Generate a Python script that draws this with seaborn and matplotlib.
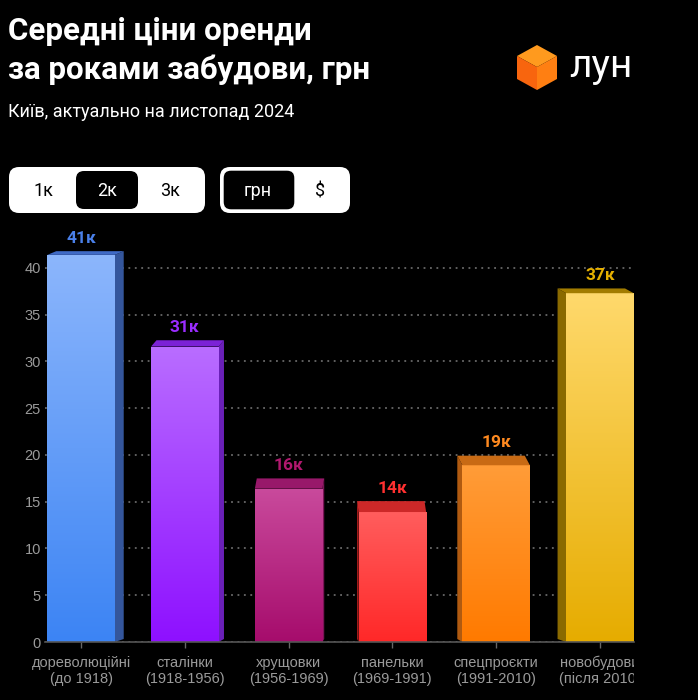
import numpy as np
import pandas as pd
import matplotlib
matplotlib.use("Agg")
import matplotlib.pyplot as plt
import seaborn as sns
from matplotlib.patches import FancyBboxPatch, Polygon
from matplotlib.colors import LinearSegmentedColormap
from matplotlib.transforms import Bbox, ScaledTranslation

# ---------------- data ----------------
categories = ["дореволюційні\n(до 1918)", "сталінки\n(1918-1956)", "хрущовки\n(1956-1969)",
              "панельки\n(1969-1991)", "спецпроєкти\n(1991-2010)", "новобудови\n(після 2010)"]
values = [41.4, 31.6, 16.4, 13.9, 18.9, 37.3]
value_labels = ["41к", "31к", "16к", "14к", "19к", "37к"]
y_ticks = [0, 5, 10, 15, 20, 25, 30, 35, 40]

title_lines = ["Середні ціни оренди", "за роками забудови, грн"]
subtitle = "Київ, актуально на листопад 2024"
toggle_a = ["1к", "2к", "3к"]
toggle_b = ["грн", "$"]

# ---------------- styles ----------------
top_colors = ["#8cb6fc", "#b96dff", "#c94a9c", "#ff5d5d", "#ff9c38", "#ffd96c"]
bottom_colors = ["#3c84f4", "#8e10ff", "#a60c6c", "#ff2828", "#ff7a00", "#e6ac00"]
side_colors = ["#34569c", "#6a20b8", "#7a1456", "#a81c1c", "#b05a10", "#8a6a00"]
cap_colors = ["#3f6ac6", "#7b22d6", "#98186a", "#cc2828", "#c86a14", "#a27c00"]
label_colors = ["#4a80ea", "#9a2cff", "#b0186e", "#ff3030", "#ff8a20", "#e5b000"]

W, H = 698, 700
sns.set_theme(style="dark")
plt.rcParams["font.family"] = ["Roboto", "DejaVu Sans"]

fig = plt.figure(figsize=(W / 100, H / 100), dpi=100, facecolor="black")

# main axes: pixel geometry
ax_l, ax_r, ax_b, ax_t = 45, 634, 642, 230
ax = fig.add_axes([ax_l / W, 1 - ax_b / H, (ax_r - ax_l) / W, (ax_b - ax_t) / H])
ax.set_facecolor("black")

df = pd.DataFrame({"cat": categories, "val": values})
sns.barplot(data=df, x="cat", y="val", hue="cat", palette=bottom_colors, legend=False,
            width=0.65, ax=ax, zorder=3, saturation=1)

xmin, xmax = -0.347, 5.328
ymin, ymax = 0, 44.06
px_x = (ax_r - ax_l) / (xmax - xmin)
px_y = (ax_b - ax_t) / (ymax - ymin)

for i, p in enumerate(ax.patches):
    x0, w, h = p.get_x(), p.get_width(), p.get_height()
    p.set_edgecolor("none")
    cx = x0 + w / 2
    cx_px = ax_l + (cx - xmin) * px_x
    dx = -0.034 * (cx_px - 345) / px_x
    top_px = ax_b - h * px_y
    dyt = (3 + 0.028 * (top_px - ax_t)) / px_y
    dyb = 3 / px_y
    # gradient on front face
    cmap = LinearSegmentedColormap.from_list(f"g{i}", [bottom_colors[i], top_colors[i]])
    im = ax.imshow(np.linspace(0, 1, 256).reshape(-1, 1), extent=[x0, x0 + w, 0, h],
                   origin="lower", cmap=cmap, aspect="auto", zorder=4, interpolation="bilinear")
    im.set_clip_path(p)
    # side face
    xe = x0 + w if dx > 0 else x0
    side = Polygon([(xe, 0), (xe + dx, dyb), (xe + dx, h + dyt), (xe, h)], closed=True,
                   facecolor=side_colors[i], edgecolor="none", zorder=2.5)
    ax.add_patch(side)
    # top face
    cap = Polygon([(x0, h), (x0 + w, h), (x0 + w + dx, h + dyt), (x0 + dx, h + dyt)], closed=True,
                  facecolor=cap_colors[i], edgecolor="none", zorder=4.5)
    ax.add_patch(cap)
    ax.text(cx, h + dyt, value_labels[i], ha="center", va="bottom", color=label_colors[i],
            fontsize=12.5, fontweight="bold", zorder=6,
            transform=ax.transData + ScaledTranslation(0, 4 / 72, fig.dpi_scale_trans))

ax.set_xlim(xmin, xmax)
ax.set_ylim(ymin, ymax)
ax.set_yticks(y_ticks)
ax.set_yticklabels([str(t) for t in y_ticks])
ax.set_xlabel("")
ax.set_ylabel("")
ax.grid(False)
ax.yaxis.grid(True, color="#7a7a7a", linestyle=(0, (1.2, 3)), linewidth=1.1, zorder=1)
ax.set_axisbelow(True)
for s in ["top", "right", "left"]:
    ax.spines[s].set_visible(False)
ax.spines["bottom"].set_color("#555555")
ax.spines["bottom"].set_linewidth(1.2)
ax.spines["bottom"].set_zorder(7)
ax.tick_params(axis="y", length=0, pad=3, labelcolor="#9a9a9a", labelsize=10.5)
ax.tick_params(axis="x", length=4, width=1, color="#666666", pad=6, labelcolor="#9a9a9a",
               labelsize=10.5, bottom=True)
for lbl in ax.get_xticklabels():
    lbl.set_fontfamily(["Liberation Sans Narrow", "Liberation Sans", "DejaVu Sans"])
    lbl.set_linespacing(1.15)
    lbl.set_clip_on(True)
    lbl.set_clip_box(Bbox.from_extents(0, 0, ax_r, H))
for lbl in ax.get_yticklabels():
    lbl.set_fontfamily(["Liberation Sans", "DejaVu Sans"])

# ---------------- overlay (pixel coords) ----------------
ov = fig.add_axes([0, 0, 1, 1], zorder=-1)
ov.set_xlim(0, W)
ov.set_ylim(H, 0)
ov.axis("off")

ov.text(8, 40, title_lines[0], color="white", fontsize=22.5, fontweight="bold", va="baseline", ha="left")
ov.text(8, 79, title_lines[1], color="white", fontsize=22.5, fontweight="bold", va="baseline", ha="left")
ov.text(8, 117, subtitle, color="white", fontsize=13, va="baseline", ha="left")

# logo cube
cxl = 537
ov.add_patch(Polygon([(cxl, 45), (cxl + 20, 56), (cxl, 67), (cxl - 20, 56)], closed=True, facecolor="#ff9a1e", edgecolor="none"))
ov.add_patch(Polygon([(cxl - 20, 56), (cxl, 67), (cxl, 90), (cxl - 20, 79)], closed=True, facecolor="#f8650e", edgecolor="none"))
ov.add_patch(Polygon([(cxl, 67), (cxl + 20, 56), (cxl + 20, 79), (cxl, 90)], closed=True, facecolor="#ff7f12", edgecolor="none"))
ov.text(569, 77, "лун", color="white", fontsize=28, va="baseline", ha="left")

# toggles
ov.add_patch(FancyBboxPatch((9, 167), 196, 46, boxstyle="round,pad=0,rounding_size=10",
                            facecolor="white", edgecolor="none"))
ov.add_patch(FancyBboxPatch((76, 171), 62, 38, boxstyle="round,pad=0,rounding_size=8",
                            facecolor="black", edgecolor="none"))
for xx, t, c in zip([43, 107, 170], toggle_a, ["black", "white", "black"]):
    ov.text(xx, 191, t, color=c, fontsize=13, ha="center", va="center")
ov.add_patch(FancyBboxPatch((220, 167), 130, 46, boxstyle="round,pad=0,rounding_size=10",
                            facecolor="white", edgecolor="none"))
ov.add_patch(FancyBboxPatch((223, 170), 72, 40, boxstyle="round,pad=0,rounding_size=8",
                            facecolor="black", edgecolor="white", linewidth=1))
for xx, t, c in zip([258, 320], toggle_b, ["white", "black"]):
    ov.text(xx, 191, t, color=c, fontsize=13, ha="center", va="center")

fig.savefig("out.png", dpi=100, facecolor="black")
